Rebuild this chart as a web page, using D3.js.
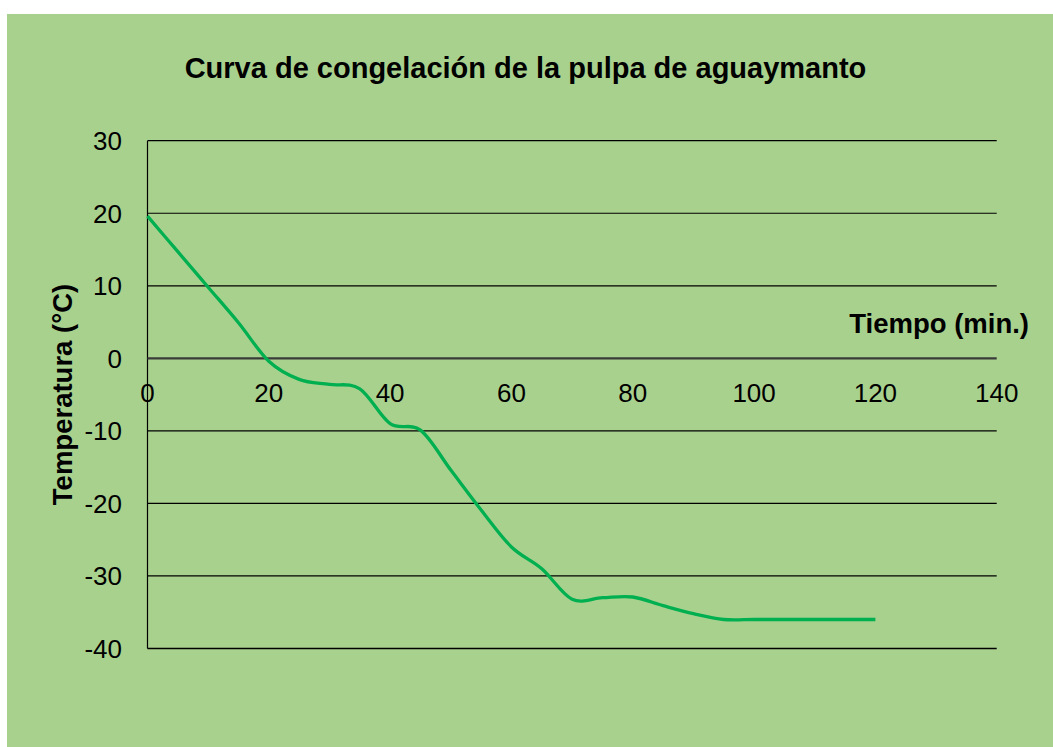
<!DOCTYPE html>
<html>
<head>
<meta charset="utf-8">
<script src="https://cdn.jsdelivr.net/npm/d3@7/dist/d3.min.js"></script>
<style>
  html, body { margin: 0; padding: 0; background: #ffffff; }
  svg { display: block; }
  text { font-family: "Liberation Sans", Arial, sans-serif; fill: #000; }
</style>
</head>
<body>
<svg id="chart" width="1053" height="747"></svg>
<script>
const chartTitle = "Curva de congelación de la pulpa de aguaymanto";
const xTitle = "Tiempo (min.)";
const yTitle = "Temperatura (°C)";
const tiempo = [0, 5, 10, 15, 20, 25, 30, 35, 40, 45, 50, 55, 60, 65, 70, 75, 80, 85, 90, 95, 100, 105, 110, 115, 120];
const temperatura = [19.6, 14.7, 9.8, 4.9, -0.4, -2.9, -3.6, -4.2, -9.0, -9.9, -15.4, -20.9, -26.0, -29.0, -33.2, -33.0, -32.9, -34.1, -35.2, -36.0, -36.0, -36.0, -36.0, -36.0, -36.0];
const xTicks = [0, 20, 40, 60, 80, 100, 120, 140];
const yTicks = [30, 20, 10, 0, -10, -20, -30, -40];

const svg = d3.select("#chart");
svg.append("rect").attr("x", 7).attr("y", 14).attr("width", 1046).attr("height", 733).attr("fill", "#a9d18e");

const x = d3.scaleLinear().domain([0, 140]).range([147.5, 996.7]);
const y = d3.scaleLinear().domain([-40, 30]).range([648.5, 140.7]);

// gridlines
svg.append("g").selectAll("line").data(yTicks.filter(d => d !== 0)).join("line")
  .attr("x1", x(0)).attr("x2", x(140))
  .attr("y1", d => y(d)).attr("y2", d => y(d))
  .attr("stroke", "#000").attr("stroke-width", d => d === -40 ? 1.6 : 1.2);

// y axis line
svg.append("line").attr("x1", x(0)).attr("x2", x(0)).attr("y1", y(30)).attr("y2", y(-40))
  .attr("stroke", "#000").attr("stroke-width", 1.2);

// x axis (zero line)
svg.append("line").attr("x1", x(0)).attr("x2", x(140)).attr("y1", y(0)).attr("y2", y(0))
  .attr("stroke", "#3a3a3a").attr("stroke-width", 2.2);

// y tick labels
svg.append("g").selectAll("text").data(yTicks).join("text")
  .attr("x", 122).attr("y", d => y(d) + 9.5)
  .attr("text-anchor", "end").attr("font-size", 26)
  .text(d => d);

// x tick labels
svg.append("g").selectAll("text").data(xTicks).join("text")
  .attr("x", d => x(d)).attr("y", 401.5)
  .attr("text-anchor", "middle").attr("font-size", 26)
  .text(d => d);

// line
const line = d3.line().x((d, i) => x(tiempo[i])).y(d => y(d)).curve(d3.curveCardinal);
svg.append("path").datum(temperatura).attr("d", line)
  .attr("fill", "none").attr("stroke", "#00b050").attr("stroke-width", 3.3)
  .attr("stroke-linejoin", "round");

// titles
svg.append("text").attr("x", 525.5).attr("y", 78).attr("text-anchor", "middle")
  .attr("font-size", 29).attr("font-weight", "bold").text(chartTitle);
svg.append("text").attr("x", 1029).attr("y", 333).attr("text-anchor", "end")
  .attr("font-size", 27.5).attr("font-weight", "bold").text(xTitle);
svg.append("text").attr("transform", "translate(72,394.5) rotate(-90)").attr("text-anchor", "middle")
  .attr("font-size", 27.5).attr("font-weight", "bold").text(yTitle);
</script>
</body>
</html>
